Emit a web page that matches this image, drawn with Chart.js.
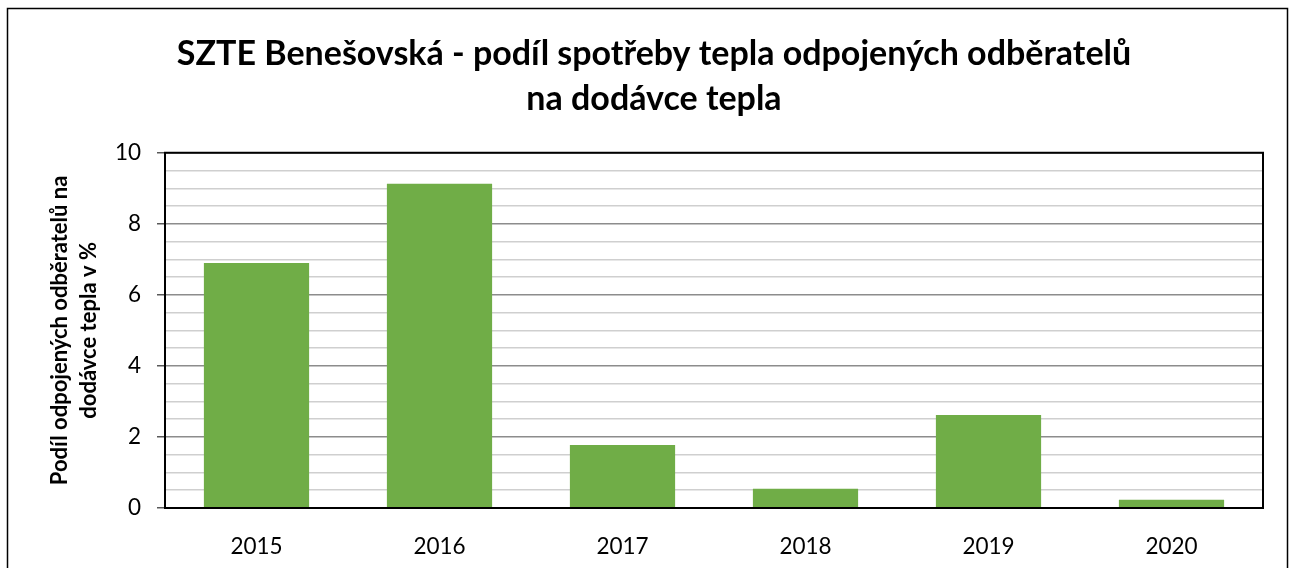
<!DOCTYPE html>
<html>
<head>
<meta charset="utf-8">
<script src="https://cdn.jsdelivr.net/npm/chart.js@4"></script>
<style>
  html, body { margin: 0; padding: 0; background: #fff; overflow: hidden; }
  #wrap { width: 1290px; height: 568px; position: relative; }
</style>
</head>
<body>
<div id="wrap"><canvas id="chart" width="1290" height="568"></canvas></div>
<script>
// SZTE Benesovska - podil odpojenych odberatelu

const years = ["2015", "2016", "2017", "2018", "2019", "2020"];

const shares = [6.9, 9.13, 1.77, 0.54, 2.62, 0.23];

const yTickLabels = [0, 2, 4, 6, 8, 10];


const fontName = "Lato, 'Open Sans', sans-serif";


// frame round the whole chart + plot border
const framePlugin = {
    id: "frame",
    afterDraw(chart){
        const ctx = chart.ctx;
        const a = chart.chartArea;
        ctx.save();
        ctx.strokeStyle = "#000";
        ctx.lineWidth = 2;
        ctx.strokeRect(a.left, a.top, a.right - a.left, a.bottom - a.top);
        ctx.lineWidth = 1.5;
        ctx.strokeRect(7.5, 8.5, 1280, 600);
        ctx.restore();
    }
};


function isMajor(v){
    return yTickLabels.includes(v);
}


new Chart(document.getElementById("chart"), {

    type: "bar",

    data: {
        labels: years,
        datasets: [
            {
                label: "Podíl",
                data: shares,
                backgroundColor: "#70AD47",
                borderWidth: 0,
                barPercentage: 0.575,
                categoryPercentage: 1
            }
        ]
    },

    options: {
        responsive: false,
        animation: false,
        devicePixelRatio: 1,
        layout: {
            padding: { left: 45, right: 27, top: 0, bottom: 0 }
        },
        plugins: {
            legend: { display: false },
            tooltip: { enabled: false },
            title: {
                display: true,
                text: [
                    "SZTE Benešovská - podíl spotřeby tepla odpojených odběratelů",
                    "na dodávce tepla"
                ],
                color: "#000",
                font: { family: fontName, size: 34, weight: "bold", lineHeight: 1.32 },
                padding: { top: 32, bottom: 31 }
            }
        },
        scales: {
            x: {
                grid: { display: false, drawTicks: false },
                border: { display: false },
                ticks: {
                    color: "#000",
                    padding: 25,
                    font: { family: fontName, size: 22.5 }
                },
                afterFit(scale){ scale.height = 60; }
            },
            y: {
                min: 0,
                max: 10,
                border: { display: false },
                grid: {
                    color: c => isMajor(c.tick.value) ? "#8c8c8c" : "#cfcfcf",
                    lineWidth: 1.5,
                    tickLength: 8,
                    tickColor: c => isMajor(c.tick.value) ? "#595959" : "rgba(0,0,0,0)"
                },
                ticks: {
                    stepSize: 0.5,
                    autoSkip: false,
                    color: "#000",
                    padding: 16,
                    font: { family: fontName, size: 22.5 },
                    callback: v => isMajor(v) ? v : ""
                },
                title: {
                    display: true,
                    text: ["Podíl odpojených odběratelů na", "dodávce tepla v %"],
                    color: "#000",
                    font: { family: fontName, size: 22, weight: "bold", lineHeight: 1.32 },
                    padding: { top: 0, bottom: 10 }
                },
                afterFit(scale){ scale.width = 120; }
            }
        }
    },

    plugins: [framePlugin]

});
</script>
</body>
</html>
